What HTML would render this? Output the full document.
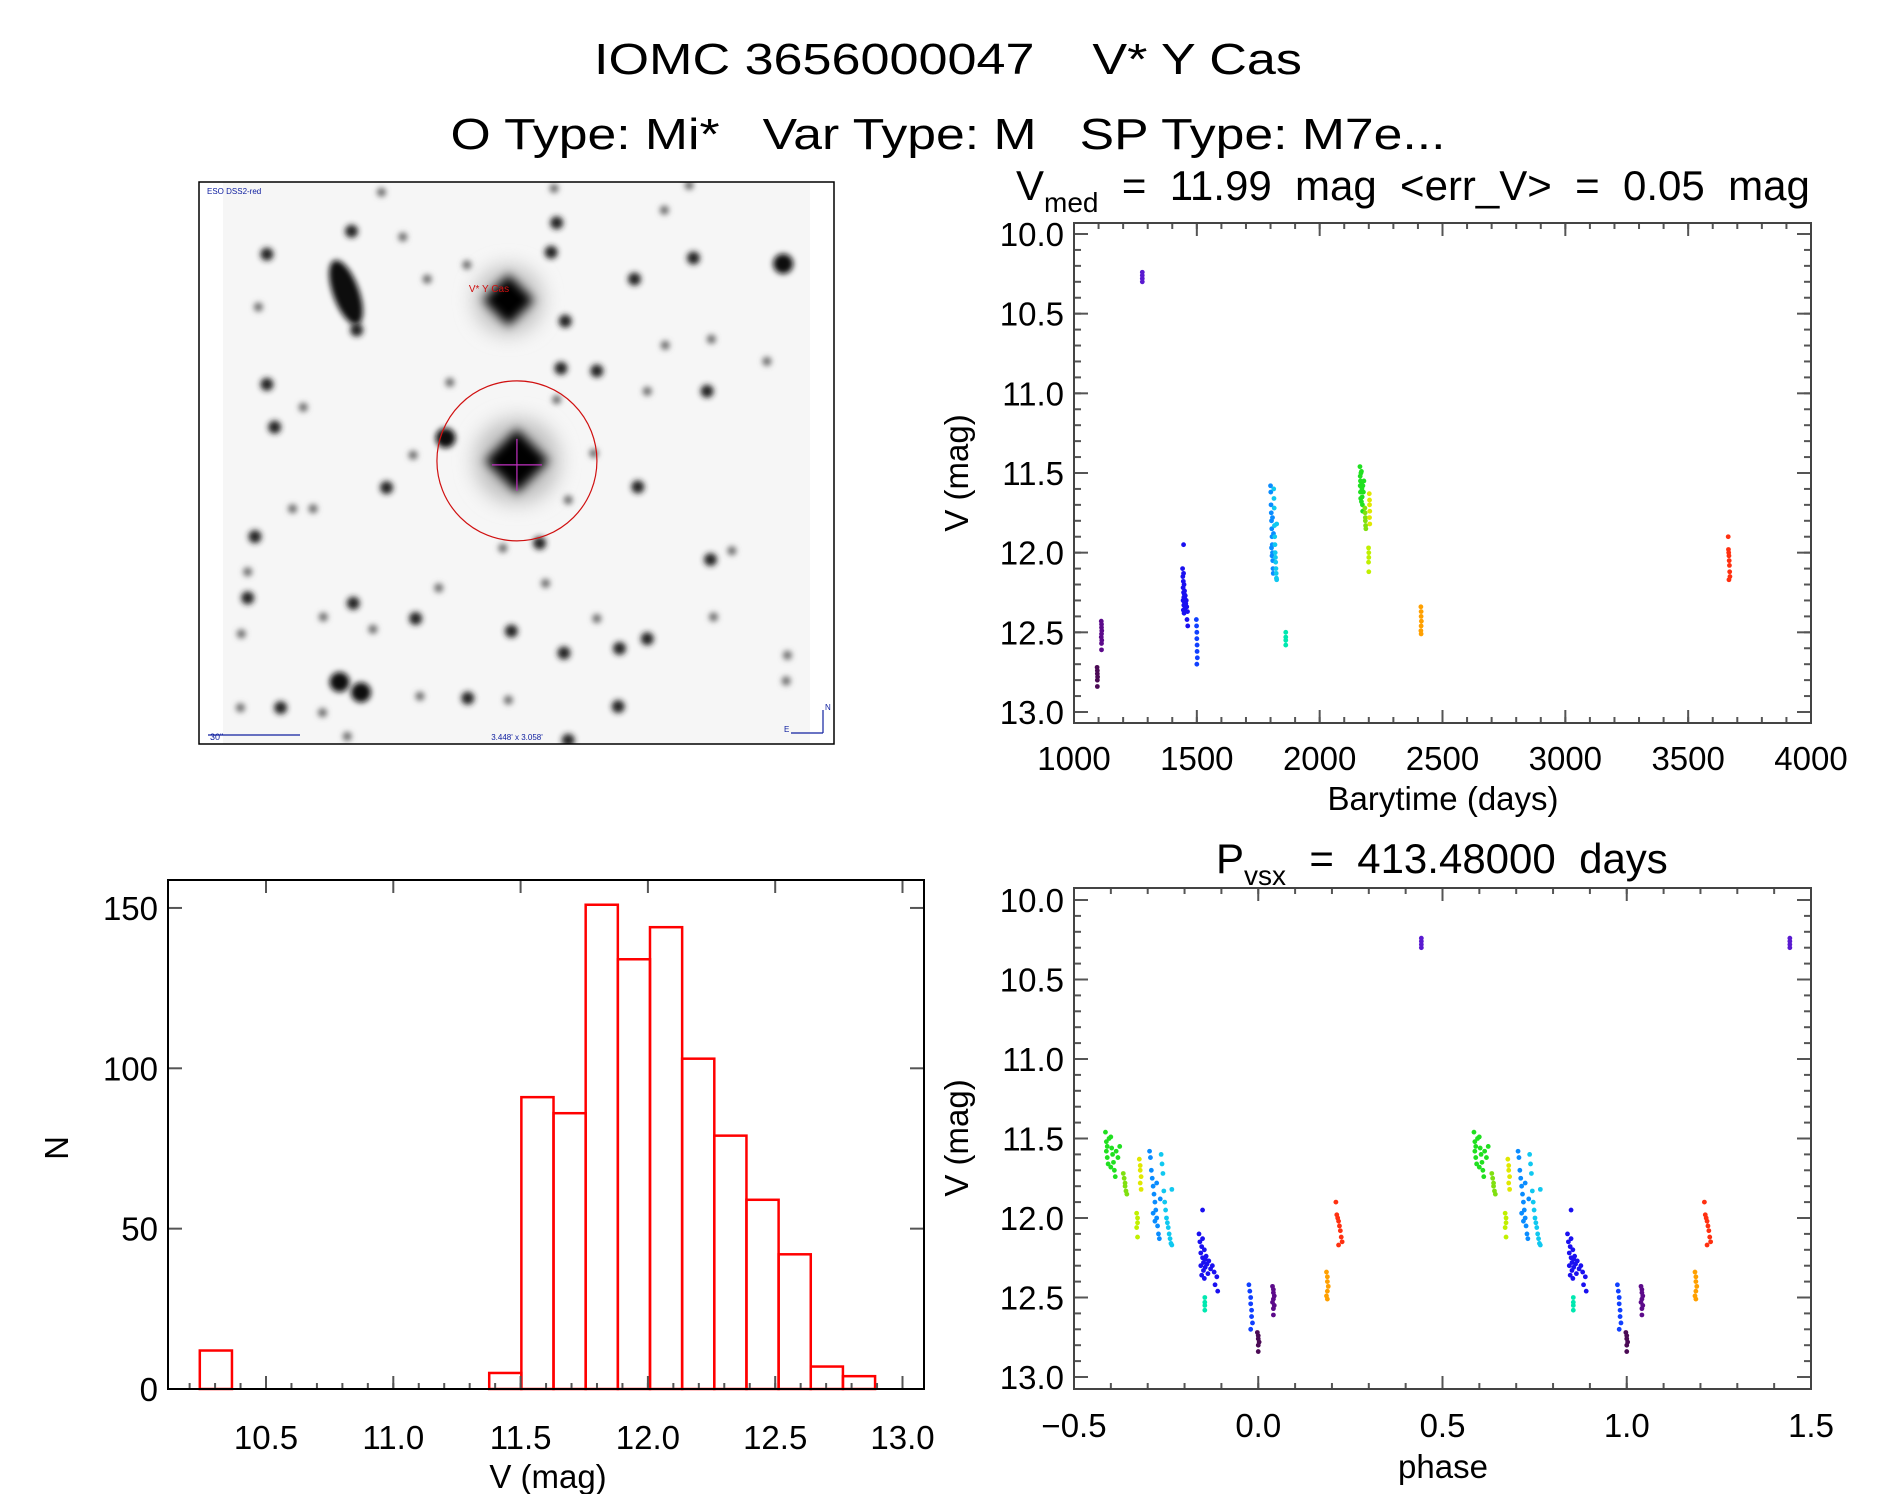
<!DOCTYPE html>
<html><head><meta charset="utf-8"><style>
html,body{margin:0;padding:0;background:#fff;}
svg{display:block;font-family:"Liberation Sans",sans-serif;}
</style></head><body>
<svg id="fig" width="1889" height="1494" viewBox="0 0 1889 1494" xmlns="http://www.w3.org/2000/svg">
<defs>
<filter id="b1" x="-100%" y="-100%" width="300%" height="300%"><feGaussianBlur stdDeviation="2.8"/></filter>
<filter id="b2" x="-100%" y="-100%" width="300%" height="300%"><feGaussianBlur stdDeviation="5"/></filter>
<filter id="b3" x="-50%" y="-50%" width="200%" height="200%"><feGaussianBlur stdDeviation="10"/></filter>
<clipPath id="imgclip"><rect x="223" y="182" width="587" height="562"/></clipPath>
<clipPath id="lcclip"><rect x="1074" y="223" width="737" height="500"/></clipPath>
<clipPath id="phclip"><rect x="1074" y="888" width="737" height="501"/></clipPath>
</defs>
<g>
<text x="948" y="74" font-size="44" text-anchor="middle" textLength="708" lengthAdjust="spacingAndGlyphs" xml:space="preserve">IOMC 3656000047    V* Y Cas</text>
<text x="948" y="149" font-size="44" text-anchor="middle" textLength="995" lengthAdjust="spacingAndGlyphs" xml:space="preserve">O Type: Mi*   Var Type: M   SP Type: M7e...</text>
</g>
<g id="img"></g>
<g id="lc"></g>
<g id="ph"></g>
<g id="hist"></g>
</svg>
<script>
// ---------- light curve data ----------
const groupTimes = [
 [1094,1095,1095,1096,1095,1095],
 [1111,1112,1112,1113,1112,1111,1113,1112,1112],
 [1278,1278,1278,1278],
 [1442,1443,1444,1444,1445,1445,1446,1446,1447,1447,1448,1448,1449,1449,1450,1451,1452,1453,1455,1457,1459,1460,1462,1463,1446],
 [1498,1499,1500,1500,1501,1501,1502,1500],
 [1800,1801,1802,1803,1804,1805,1806,1807,1808,1809,1810,1811,1812,1804,1806,1808],
 [1813,1814,1815,1816,1817,1818,1819,1820,1821,1822,1823,1824,1825,1825],
 [1862,1862,1862,1862],
 [2164,2165,2165,2166,2166,2167,2168,2170,2171,2172,2173,2174,2175,2176,2178,2180,2170],
 [2184,2185,2186,2186,2187,2188],
 [2202,2203,2203,2204,2203,2204],
 [2199,2200,2200,2199,2200],
 [2412,2413,2413,2414,2413,2412,2413],
 [3663,3664,3665,3666,3667,3668,3669,3670,3666]
];
const groupMags = [
 [12.72,12.74,12.76,12.78,12.80,12.84],
 [12.43,12.45,12.47,12.49,12.51,12.53,12.55,12.57,12.61],
 [10.24,10.26,10.28,10.30],
 [12.10,12.15,12.22,12.30,12.18,12.36,12.25,12.13,12.28,12.33,12.20,12.38,12.26,12.31,12.24,12.29,12.35,12.27,12.32,12.30,12.34,12.42,12.37,12.46,11.95],
 [12.42,12.46,12.50,12.54,12.58,12.62,12.66,12.70],
 [11.58,11.62,11.70,11.75,11.80,11.85,11.90,11.95,12.00,12.05,12.10,12.13,11.88,11.97,12.02,11.78],
 [11.60,11.66,11.72,11.83,11.90,11.95,12.00,12.03,12.06,12.10,12.13,12.16,11.82,12.17],
 [12.50,12.53,12.55,12.58],
 [11.46,11.52,11.58,11.55,11.62,11.66,11.50,11.49,11.56,11.60,11.65,11.70,11.74,11.58,11.62,11.55,11.68],
 [11.72,11.75,11.78,11.80,11.83,11.85],
 [11.63,11.67,11.70,11.74,11.78,11.82],
 [11.97,12.00,12.03,12.06,12.12],
 [12.34,12.37,12.40,12.43,12.46,12.49,12.51],
 [11.90,11.98,12.00,12.02,12.05,12.08,12.12,12.15,12.17]
];
const groupColors = ['#4b0a55','#5c0a8a','#5a1ad0','#1a10f0','#1040ff','#0a8cff','#10c8f0','#00e8b0','#20e020','#80e010','#e0e800','#c0f000','#ffa000','#ff3010'];
const period = 413.48;
const epoch = 1095;
const lcXTicks = [1000,1500,2000,2500,3000,3500,4000];
const magTicks = [10.0,10.5,11.0,11.5,12.0,12.5,13.0];
const phXTicks = [-0.5,0.0,0.5,1.0,1.5];
const phXLabels = ['\u22120.5','0.0','0.5','1.0','1.5'];
// ---------- histogram data ----------
const binStart = 10.24;
const binWidth = 0.1263;
const binCounts = [12,0,0,0,0,0,0,0,0,5,91,86,151,134,144,103,79,59,42,7,4];
const histXTicks = [10.5,11.0,11.5,12.0,12.5,13.0];
const histYTicks = [0,50,100,150];

const NS='http://www.w3.org/2000/svg';
function mk(tag, attrs, parent){const e=document.createElementNS(NS,tag);for(const k in attrs)e.setAttribute(k,attrs[k]);parent.appendChild(e);return e;}
function fmt1(v){return v.toFixed(1);}

const xT = t => 1074 + (t-1000)*(737/3000);
const yM = m => 234 + (m-10)*159.33;
const xP = p => 1074 + (p+0.5)*(737/2);
const yM2 = m => 900 + (m-10)*159.0;
const xH = v => 266 + (v-10.5)*254.6;
const yH = n => 1389 - n*3.207;

function frameTicks(g, L,T,R,B, xMaj, xMinStep, xFn, xLo, xHi, yMaj, yMinStep, yFn, yLo, yHi, opts){
  opts = opts||{};
  const st={stroke:'#555','stroke-width':2};
  if(xMinStep){
    for(let v=xLo; v<=xHi+1e-9; v+=xMinStep){
      const x=xFn(v); if(x<L-0.5||x>R+0.5) continue;
      const t=mk('line',Object.assign({x1:x,x2:x,y1:B,y2:B-6},st),g);
       
      if(!opts.noTopMinor){const t2=mk('line',Object.assign({x1:x,x2:x,y1:T,y2:T+6},st),g);
       }
    }
  }
  xMaj.forEach(v=>{const x=xFn(v);
    const t=mk('line',Object.assign({x1:x,x2:x,y1:B,y2:B-13},st),g);
     
    const t2=mk('line',Object.assign({x1:x,x2:x,y1:T,y2:T+13},st),g);
     });
  if(yMinStep){
    for(let v=yLo; v<=yHi+1e-9; v+=yMinStep){
      const y=yFn(v); if(y<T-0.5||y>B+0.5) continue;
      const t=mk('line',Object.assign({x1:L,x2:L+7,y1:y,y2:y},st),g);
       
      const t2=mk('line',Object.assign({x1:R,x2:R-7,y1:y,y2:y},st),g);
       
    }
  }
  yMaj.forEach(v=>{const y=yFn(v);
    const t=mk('line',Object.assign({x1:L,x2:L+14,y1:y,y2:y},st),g);
     
    const t2=mk('line',Object.assign({x1:R,x2:R-14,y1:y,y2:y},st),g);
     });
  const f=mk('rect',{x:L,y:T,width:R-L,height:B-T,fill:'none',stroke:opts.frame||'#444','stroke-width':2},g);
   
}

function txt(g, x,y,s, size, anchor, name, extra){
  const t=mk('text',Object.assign({x:x,y:y,'font-size':size,'text-anchor':anchor||'middle',fill:'#000'},extra||{}),g);
  t.textContent=s;
   
  return t;
}

// ---------- light curve ----------
(function(){
  const g=document.getElementById('lc');
  const pts=mk('g',{'clip-path':'url(#lcclip)'},g);
   
  groupTimes.forEach((ts,gi)=>ts.forEach((t,i)=>{
    const c=mk('circle',{cx:xT(t),cy:yM(groupMags[gi][i]),r:2.4,fill:groupColors[gi]},pts);
     
  }));
  frameTicks(g,1074,223,1811,723,lcXTicks,100,xT,1000,4000,magTicks,0.1,yM,9.9,13.1);
  lcXTicks.forEach(v=>txt(g,xT(v),770,String(v),33,'middle','x-tick-label'));
  magTicks.forEach(v=>txt(g,1064,yM(v)+12,fmt1(v),33,'end','y-tick-label'));
  txt(g,1443,810,'Barytime (days)',33,'middle','x-axis-title');
  txt(g,0,0,'V (mag)',33,'middle','y-axis-title',{transform:'translate(968,473) rotate(-90)'});
  const st=txt(g,1016,200,'',42,'start','lc-subtitle');
  st.innerHTML='V<tspan font-size="28" dy="12">med</tspan><tspan dy="-12" xml:space="preserve">  =  11.99  mag  &lt;err_V&gt;  =  0.05  mag</tspan>';
})();

// ---------- phased ----------
(function(){
  const g=document.getElementById('ph');
  const pts=mk('g',{'clip-path':'url(#phclip)'},g);
   
  groupTimes.forEach((ts,gi)=>ts.forEach((t,i)=>{
    let p=((t-epoch)/period)%1; if(p<0)p+=1; if(p>=0.5)p-=1;
    [p,p+1].forEach(pp=>{
      const c=mk('circle',{cx:xP(pp),cy:yM2(groupMags[gi][i]),r:2.4,fill:groupColors[gi]},pts);
       
    });
  }));
  frameTicks(g,1074,888,1811,1389,phXTicks,0.1,xP,-0.5,1.5,magTicks,0.1,yM2,9.9,13.1);
  phXTicks.forEach((v,i)=>txt(g,xP(v),1437,phXLabels[i],33,'middle','x-tick-label'));
  magTicks.forEach(v=>txt(g,1064,yM2(v)+12,fmt1(v),33,'end','y-tick-label'));
  txt(g,1443,1478,'phase',33,'middle','x-axis-title');
  txt(g,0,0,'V (mag)',33,'middle','y-axis-title',{transform:'translate(968,1138) rotate(-90)'});
  const st=txt(g,1216,873,'',42,'start','phase-subtitle');
  st.innerHTML='P<tspan font-size="28" dy="12">vsx</tspan><tspan dy="-12" xml:space="preserve">  =  413.48000  days</tspan>';
})();

// ---------- histogram ----------
(function(){
  const g=document.getElementById('hist');
  const bars=mk('g',{},g);
   
  binCounts.forEach((n,i)=>{
    const x0=xH(binStart+i*binWidth), x1=xH(binStart+(i+1)*binWidth);
    const r=mk('rect',{x:x0,y:yH(n),width:x1-x0,height:yH(0)-yH(n),fill:'none',stroke:'#ff0000','stroke-width':2.5},bars);
     
  });
  frameTicks(g,168,880,924,1389,histXTicks,0.1,xH,10.1,13.1,histYTicks,0,yH,0,160,{noTopMinor:true,frame:'#000'});
  histXTicks.forEach(v=>txt(g,xH(v),1449,fmt1(v),33,'middle','x-tick-label'));
  histYTicks.forEach(v=>txt(g,158,yH(v)+12,String(v),33,'end','y-tick-label'));
  txt(g,548,1488,'V (mag)',33,'middle','x-axis-title');
  txt(g,0,0,'N',33,'middle','y-axis-title',{transform:'translate(68,1148) rotate(-90)'});
})();

// ---------- sky image ----------
(function(){
  const g=document.getElementById('img');
  const bg=mk('rect',{x:223,y:182,width:587,height:562,fill:'#f6f6f6'},g);
   
  const ig=mk('g',{'clip-path':'url(#imgclip)'},g);
  const X=zx=>190+zx/2.34, Y=zy=>170+zy/2.613;
  const stars=[[448,58,1],[852,48,1],[858,138,2],[378,160,2],[498,175,1],[180,220,2],[648,248,1],[845,215,2],[1178,230,2],[1388,245,3],[1040,285,2],[555,285,1],[160,358,1],[390,418,2],[878,395,2],[1112,458,1],[1220,442,1],[868,518,2],[952,525,2],[180,560,2],[608,555,1],[1070,578,1],[1210,578,2],[858,600,1],[265,620,1],[198,672,2],[598,700,3],[945,740,1],[522,745,1],[460,830,2],[1048,828,2],[885,862,1],[240,885,1],[288,885,1],[152,958,2],[732,988,1],[818,975,2],[1218,1018,2],[1268,995,1],[135,1050,1],[832,1080,1],[582,1092,1],[135,1118,2],[382,1132,2],[312,1168,1],[528,1172,2],[952,1172,1],[1225,1168,1],[120,1212,1],[428,1200,1],[752,1205,2],[1070,1225,2],[1005,1250,2],[875,1262,2],[1398,1268,1],[350,1338,3],[400,1365,3],[118,1405,1],[212,1405,2],[310,1418,1],[538,1375,1],[650,1380,2],[745,1385,1],[1002,1402,2],[1395,1335,1],[368,1480,1],[885,1490,2],[1350,500,1],[1110,105,1],[1168,40,1]];
  stars.forEach(s=>{
    const r=s[2]===1?4.5:(s[2]===2?6.5:10);
    const c=mk('circle',{cx:X(s[0]),cy:Y(s[1]),r:r,fill:s[2]===1?'#666':(s[2]===2?'#222':'#111'),filter:'url(#b1)'},ig);
     
  });
  const e=mk('ellipse',{cx:X(365),cy:Y(320),rx:13,ry:34,fill:'#111',transform:'rotate(-20 '+X(365)+' '+Y(320)+')',filter:'url(#b1)'},ig);
   
  [[745,340,24],[765,760,30]].forEach(b=>{
    const cx=X(b[0]),cy=Y(b[1]);
    const h=mk('g',{},ig);  
    mk('line',{x1:cx-140,x2:cx+140,y1:cy,y2:cy,stroke:'#999','stroke-width':3,filter:'url(#b1)'},h);
    mk('line',{x1:cx,x2:cx,y1:cy-130,y2:cy+130,stroke:'#999','stroke-width':3,filter:'url(#b1)'},h);
    mk('circle',{cx:cx,cy:cy,r:b[2]*1.4,fill:'#bbb',filter:'url(#b3)'},h);
    mk('rect',{x:cx-b[2]*0.75,y:cy-b[2]*0.75,width:b[2]*1.5,height:b[2]*1.5,fill:'#000',transform:'rotate(45 '+cx+' '+cy+')',filter:'url(#b2)'},h);
  });
  const cx=X(765),cy=Y(760);
  const circ=mk('circle',{cx:cx,cy:cy,r:80,fill:'none',stroke:'#d01010','stroke-width':1.2},g);
   
  const cr=mk('g',{stroke:'#c030c0','stroke-width':1.2},g);
   
  mk('line',{x1:cx-25,x2:cx+25,y1:cy+4,y2:cy+4},cr); mk('line',{x1:cx,x2:cx,y1:cy-22,y2:cy+30},cr);
  txt(g,489,292,'V* Y Cas',10,'middle','target-label',{fill:'#d01010'});
  txt(g,207,194,'ESO DSS2-red',8,'start','survey-label',{fill:'#1020a0'});
  txt(g,210,740,'30"',9,'start','scale-label',{fill:'#1020a0'});
  const sb=mk('line',{x1:208,x2:300,y1:735,y2:735,stroke:'#1020a0','stroke-width':1.2},g);
   
  txt(g,517,740,"3.448' x 3.058'",8,'middle','fov-label',{fill:'#1020a0'});
  const cp=mk('g',{stroke:'#1020a0','stroke-width':1.2,fill:'none'},g);
   
  mk('polyline',{points:'791,733 823,733'},cp);
  mk('line',{x1:823,x2:823,y1:733,y2:710},cp);
  txt(g,825,710,'N',8,'start','compass-n',{fill:'#1020a0'});
  txt(g,784,732,'E',8,'start','compass-e',{fill:'#1020a0'});
  const fr=mk('rect',{x:199,y:182,width:635,height:562,fill:'none',stroke:'#000','stroke-width':1.5},g);
   
})();
</script>
</body></html>
